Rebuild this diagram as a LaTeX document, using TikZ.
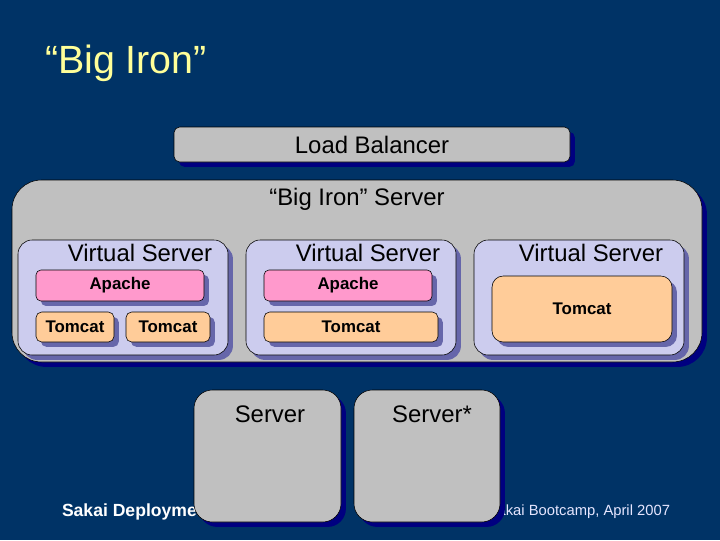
\documentclass[tikz,border=0pt]{standalone}
\usepackage{fontspec}
\setmainfont{Liberation Sans}
\usetikzlibrary{shadows}
\definecolor{slide}{HTML}{003366}
\definecolor{boxgray}{HTML}{C0C0C0}
\definecolor{vsfill}{HTML}{CCCCEE}
\definecolor{apfill}{HTML}{FF99CC}
\definecolor{tcfill}{HTML}{FFCC99}
\definecolor{titlecol}{HTML}{FFFF99}
\definecolor{outshade}{HTML}{000080}
\definecolor{inshade}{HTML}{6666AA}
\definecolor{footcol}{HTML}{E6E6FF}
\tikzset{line width=.7pt,
  every node/.style={inner sep=0pt,outer sep=0pt},
  wh/.style 2 args={minimum width=#1*0.025cm,minimum height=#2*0.025cm},
  outbox/.style={rectangle,draw=black,fill=boxgray,
    drop shadow={shadow xshift=3.5pt,shadow yshift=-3.5pt,fill=outshade,opacity=1}},
  inbox/.style={rectangle,draw=black,
    drop shadow={shadow xshift=3.5pt,shadow yshift=-3.5pt,fill=inshade,opacity=1}},
  bigtext/.style={font=\fontsize{17}{20}\selectfont},
  smalltext/.style={font=\fontsize{12}{14}\selectfont\bfseries}}

\begin{document}
\begin{tikzpicture}[x=0.025cm,y=-0.025cm]
\useasboundingbox (0,0) rectangle (720,540);
\fill[slide] (0,0) rectangle (720,540);
\node[anchor=base west,text=titlecol,font=\fontsize{28}{32}\selectfont] (title) at (45,73) {“Big Iron”};
% footer, partly hidden by the servers
\node[anchor=base west,text=white,font=\fontsize{12.5}{14}\selectfont\bfseries] (footl) at (62,516) {Sakai Deployment};
\node[anchor=base east,text=footcol,font=\fontsize{10.5}{12}\selectfont] (footr) at (670,515) {Sakai Bootcamp, April 2007};
% load balancer
\node[outbox,wh={396}{35},rounded corners=4pt,bigtext] (lb) at (372,144.5) {Load Balancer};
% big iron server
\node[outbox,wh={690}{182},rounded corners=21pt] (iron) at (357,271) {};
\node[bigtext] (ironlab) at (357,199) {“Big Iron” Server};
% virtual servers
\foreach \n/\cx/\lx in {vsa/123/140,vsb/351/368,vsc/579/591} {
  \node[inbox,fill=vsfill,wh={210}{115},rounded corners=10pt] (\n) at (\cx,297.5) {};
  \node[bigtext] (\n lab) at (\lx,253) {Virtual Server};}
\node[inbox,fill=apfill,wh={168}{31},rounded corners=3.5pt,smalltext] (apa) at (120,285.5) {Apache};
\node[inbox,fill=tcfill,wh={78}{30},rounded corners=4pt,smalltext] (tca) at (75,327) {Tomcat};
\node[inbox,fill=tcfill,wh={84}{30},rounded corners=4pt,smalltext] (tcb) at (168,327) {Tomcat};
\node[inbox,fill=apfill,wh={168}{31},rounded corners=3.5pt,smalltext] (apb) at (348,285.5) {Apache};
\node[inbox,fill=tcfill,wh={174}{30},rounded corners=4pt,smalltext] (tcc) at (351,327) {Tomcat};
\node[inbox,fill=tcfill,wh={180}{66},rounded corners=8pt,smalltext] (tcd) at (582,309) {Tomcat};
% servers
\node[outbox,wh={147}{132},rounded corners=13pt] (srv) at (267.5,456) {};
\node[bigtext] (srvlab) at (270,414) {Server};
\node[outbox,wh={146}{132},rounded corners=13pt] (srvb) at (427,456) {};
\node[bigtext] (srvblab) at (432,414) {Server*};
\end{tikzpicture}
\end{document}
